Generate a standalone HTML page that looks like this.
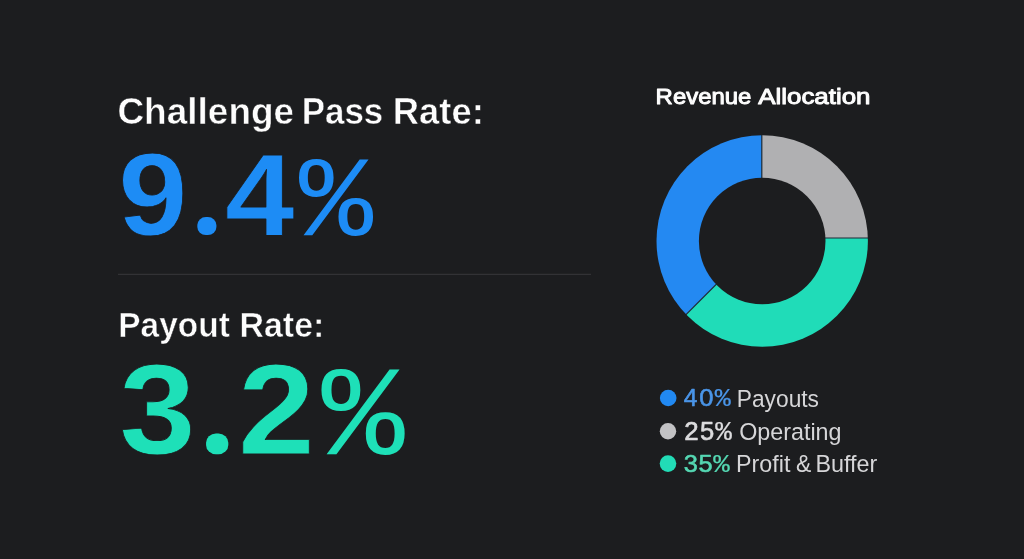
<!DOCTYPE html>
<html>
<head>
<meta charset="utf-8">
<title>Challenge Pass Rate and Revenue Allocation</title>
<style>
html,body{margin:0;padding:0;background:#1c1d1f;width:1024px;height:559px;overflow:hidden}
svg{display:block;will-change:transform}
text{font-family:"Liberation Sans",Arial,sans-serif}
</style>
</head>
<body>
<svg width="1024" height="559" viewBox="0 0 1024 559">
  <rect width="1024" height="559" fill="#1c1d1f"/>
  <text transform="translate(0,123.500) scale(1.00000,1.00000)" fill="#fdfdfd"><tspan x="117.41" y="0.00" textLength="176.75" lengthAdjust="spacingAndGlyphs" style="font-family:'Liberation Sans',sans-serif;font-weight:700;font-size:36.600px;fill:#fdfdfd;stroke:#1c1d1f;stroke-width:0.500px;stroke-linejoin:round">Challenge</tspan> <tspan x="301.68" y="0.00" textLength="81.57" lengthAdjust="spacingAndGlyphs" style="font-family:'Liberation Sans',sans-serif;font-weight:700;font-size:36.600px;fill:#fdfdfd;stroke:#1c1d1f;stroke-width:0.500px;stroke-linejoin:round">Pass</tspan> <tspan x="392.86" y="0.00" textLength="90.89" lengthAdjust="spacingAndGlyphs" style="font-family:'Liberation Sans',sans-serif;font-weight:700;font-size:36.600px;fill:#fdfdfd;stroke:#1c1d1f;stroke-width:0.500px;stroke-linejoin:round">Rate:</tspan></text>
  <text transform="translate(0,234.694) scale(1.24203,1.16328)" fill="#1d8cf5"><tspan x="95.24" y="0.00" style="font-family:'Liberation Sans',sans-serif;font-weight:700;font-size:100.17px;stroke:#1c1d1f;stroke-width:0.665px;stroke-linejoin:round">9</tspan><tspan x="165.12" y="-6.49" style="font-family:'Liberation Sans',sans-serif;font-weight:700;font-size:10.87px;stroke:#1d8cf5;stroke-width:13.81px;stroke-linejoin:round">.</tspan><tspan x="181.08" y="0.00" style="font-family:'Liberation Sans',sans-serif;font-weight:700;font-size:100.58px;stroke:#1c1d1f;stroke-width:0.665px;stroke-linejoin:round">4</tspan><tspan x="240.65" y="0.00" style="font-family:'Liberation Mono',monospace;font-weight:400;font-size:99.25px;stroke:none">%</tspan></text>
  <rect x="118" y="273.8" width="473" height="1" fill="#38383b"/>
  <text transform="translate(0,337.400) scale(1.00000,1.00000)" fill="#fdfdfd"><tspan x="118.30" y="0.00" textLength="111.49" lengthAdjust="spacingAndGlyphs" style="font-family:'Liberation Sans',sans-serif;font-weight:700;font-size:34.300px;fill:#fdfdfd;stroke:#1c1d1f;stroke-width:0.500px;stroke-linejoin:round">Payout</tspan> <tspan x="239.57" y="0.00" textLength="84.72" lengthAdjust="spacingAndGlyphs" style="font-family:'Liberation Sans',sans-serif;font-weight:700;font-size:34.300px;fill:#fdfdfd;stroke:#1c1d1f;stroke-width:0.500px;stroke-linejoin:round">Rate:</tspan></text>
  <text transform="translate(0,453.905) scale(1.37972,1.27864)" fill="#1ee0b8"><tspan x="86.50" y="0.00" style="font-family:'Liberation Sans',sans-serif;font-weight:700;font-size:99.54px;stroke:#1c1d1f;stroke-width:0.602px;stroke-linejoin:round">3</tspan><tspan x="155.88" y="-6.62" style="font-family:'Liberation Sans',sans-serif;font-weight:700;font-size:11.41px;stroke:#1ee0b8;stroke-width:14.49px;stroke-linejoin:round">.</tspan><tspan x="172.58" y="0.00" style="font-family:'Liberation Sans',sans-serif;font-weight:700;font-size:100.13px;stroke:#1c1d1f;stroke-width:0.602px;stroke-linejoin:round">2</tspan><tspan x="233.09" y="0.00" style="font-family:'Liberation Mono',monospace;font-weight:400;font-size:100.32px;stroke:none">%</tspan></text>
  <text transform="translate(0,104.200) scale(1.00000,1.00000)" fill="#fdfdfd"><tspan x="655.63" y="0.00" textLength="95.70" lengthAdjust="spacingAndGlyphs" style="font-family:'Liberation Sans',sans-serif;font-weight:400;font-size:22.700px;fill:#fdfdfd;stroke:#fdfdfd;stroke-width:1.000px;stroke-linejoin:round">Revenue</tspan> <tspan x="758.28" y="0.00" textLength="112.22" lengthAdjust="spacingAndGlyphs" style="font-family:'Liberation Sans',sans-serif;font-weight:400;font-size:22.700px;fill:#fdfdfd;stroke:#fdfdfd;stroke-width:1.000px;stroke-linejoin:round">Allocation</tspan></text>
  <defs>
    <mask id="ring">
      <circle cx="762.2" cy="241" r="105.7" fill="#fff"/>
      <circle cx="762.2" cy="241" r="63.3" fill="#000"/>
    </mask>
  </defs>
  <g mask="url(#ring)">
    <rect x="640" y="120" width="250" height="250" fill="#20dcb8"/>
    <rect x="761.8" y="120" width="130" height="118" fill="#b0b0b2"/>
    <polygon points="761.8,120 761.8,238.8 640,360.6 640,120" fill="#2489f2"/>
    <line x1="761.8" y1="120" x2="761.8" y2="239" stroke="#1f2836" stroke-width="1.2"/>
    <line x1="761.8" y1="238" x2="890" y2="238" stroke="#1f2836" stroke-width="1.2"/>
    <line x1="761.8" y1="238.8" x2="640" y2="360.6" stroke="#1f2836" stroke-width="1.2"/>
  </g>
  <circle cx="668.2" cy="398" r="8.3" fill="#2189f2"/>
  <circle cx="668" cy="431.2" r="8.2" fill="#c2c2c4"/>
  <circle cx="668" cy="463.6" r="8.3" fill="#22dcb6"/>
  <text transform="translate(0,405.930) scale(0.25570,0.24713)" fill="#4a95e8"><tspan x="2674.38" y="0.00" style="font-family:'Liberation Sans',sans-serif;font-weight:400;font-size:95.87px;stroke:#4a95e8;stroke-width:2.386px;stroke-linejoin:round">4</tspan><tspan x="2734.46" y="0.00" style="font-family:'Liberation Sans',sans-serif;font-weight:400;font-size:100.02px;stroke:#4a95e8;stroke-width:2.386px;stroke-linejoin:round">0</tspan><tspan x="2795.18" y="0.00" style="font-family:'Liberation Mono',monospace;font-weight:400;font-size:104.12px;stroke:#4a95e8;stroke-width:0.994px;stroke-linejoin:round">%</tspan> <tspan x="2881.47" y="2.71" textLength="321.55" lengthAdjust="spacingAndGlyphs" style="font-family:'Liberation Sans',sans-serif;font-weight:400;font-size:95.090px;fill:#d6d6d8;stroke:none">Payouts</tspan></text>
  <text transform="translate(0,439.658) scale(0.26372,0.25689)" fill="#dcdcde"><tspan x="2594.83" y="0.00" style="font-family:'Liberation Sans',sans-serif;font-weight:400;font-size:98.12px;stroke:#dcdcde;stroke-width:2.305px;stroke-linejoin:round">2</tspan><tspan x="2654.66" y="0.00" style="font-family:'Liberation Sans',sans-serif;font-weight:400;font-size:97.07px;stroke:#dcdcde;stroke-width:2.305px;stroke-linejoin:round">5</tspan><tspan x="2712.10" y="0.00" style="font-family:'Liberation Mono',monospace;font-weight:400;font-size:104.81px;stroke:#dcdcde;stroke-width:0.960px;stroke-linejoin:round">%</tspan> <tspan x="2802.76" y="0.55" textLength="388.30" lengthAdjust="spacingAndGlyphs" style="font-family:'Liberation Sans',sans-serif;font-weight:400;font-size:91.479px;fill:#d6d6d8;stroke:none">Operating</tspan></text>
  <text transform="translate(0,471.554) scale(0.26037,0.24174)" fill="#55d8b3"><tspan x="2626.05" y="0.00" style="font-family:'Liberation Sans',sans-serif;font-weight:400;font-size:97.57px;stroke:#55d8b3;stroke-width:2.390px;stroke-linejoin:round">3</tspan><tspan x="2683.10" y="0.00" style="font-family:'Liberation Sans',sans-serif;font-weight:400;font-size:97.23px;stroke:#55d8b3;stroke-width:2.390px;stroke-linejoin:round">5</tspan><tspan x="2739.32" y="0.00" style="font-family:'Liberation Mono',monospace;font-weight:400;font-size:105.20px;stroke:#55d8b3;stroke-width:0.996px;stroke-linejoin:round">%</tspan> <tspan x="2826.96" y="1.85" textLength="208.85" lengthAdjust="spacingAndGlyphs" style="font-family:'Liberation Sans',sans-serif;font-weight:400;font-size:97.210px;fill:#d6d6d8;stroke:none">Profit</tspan> <tspan x="3056.81" y="1.85" textLength="58.69" lengthAdjust="spacingAndGlyphs" style="font-family:'Liberation Sans',sans-serif;font-weight:400;font-size:97.210px;fill:#d6d6d8;stroke:none">&amp;</tspan> <tspan x="3131.91" y="1.85" textLength="237.47" lengthAdjust="spacingAndGlyphs" style="font-family:'Liberation Sans',sans-serif;font-weight:400;font-size:97.210px;fill:#d6d6d8;stroke:none">Buffer</tspan></text>
</svg>
</body>
</html>
